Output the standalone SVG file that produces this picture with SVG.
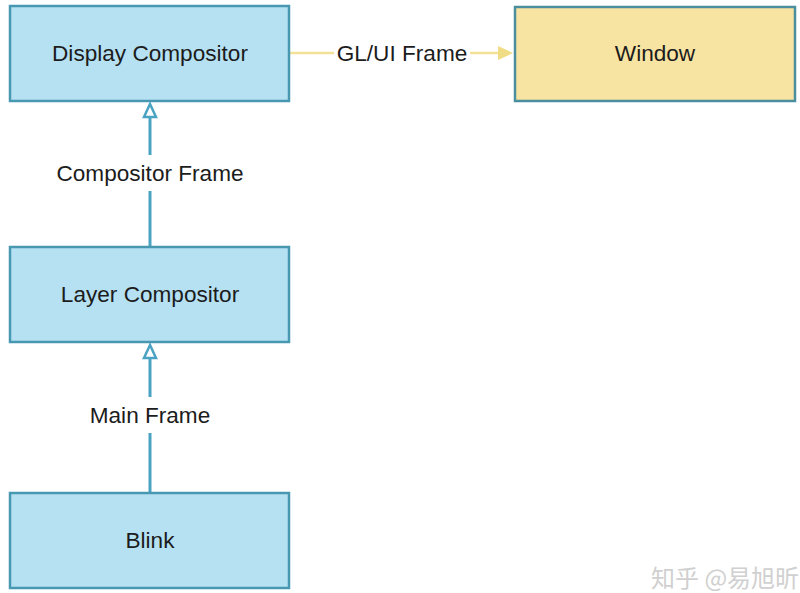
<svg xmlns="http://www.w3.org/2000/svg" width="800" height="593" viewBox="0 0 800 593">
<style>
.box{fill:#b5e1f3;stroke:#4898b2;stroke-width:2.5}
.win{fill:#f8e4a2;stroke:#4b8f9e;stroke-width:2.5}
.t{font-family:"Liberation Sans",Arial,sans-serif;font-size:22.6px;fill:#1c1c1c;text-anchor:middle}
.lbl{font-family:"Liberation Sans",Arial,sans-serif;font-size:22.6px;fill:#1c1c1c;text-anchor:middle}
.blue{stroke:#4aa3c2;stroke-width:3;fill:none}
.yel{stroke:#f2e196;stroke-width:2.5;fill:none}
</style>
<rect width="800" height="593" fill="#ffffff"/>
<g id="connectors">
  <line class="blue" x1="150" y1="247" x2="150" y2="191"/>
  <line class="blue" x1="150" y1="155" x2="150" y2="117"/>
  <polygon points="150,104 144,117 156,117" fill="#ffffff" stroke="#4aa3c2" stroke-width="2.5"/>
  <line class="blue" x1="150" y1="493" x2="150" y2="433"/>
  <line class="blue" x1="150" y1="397" x2="150" y2="358"/>
  <polygon points="150,345 144,358 156,358" fill="#ffffff" stroke="#4aa3c2" stroke-width="2.5"/>
  <line class="yel" x1="290" y1="53" x2="334" y2="53"/>
  <line class="yel" x1="470" y1="53" x2="499" y2="53"/>
  <polygon points="513,53 498,46 498,60" fill="#f0dc84"/>
  <text class="lbl" x="150" y="181">Compositor Frame</text>
  <text class="lbl" x="150" y="423">Main Frame</text>
  <text class="lbl" x="402" y="61">GL/UI Frame</text>
</g>
<g id="display">
  <rect class="box" x="10" y="6" width="279" height="95"/>
  <text class="t" x="150" y="61">Display Compositor</text>
</g>
<g id="window">
  <rect class="win" x="515" y="7" width="280" height="94"/>
  <text class="t" x="655" y="61">Window</text>
</g>
<g id="layer">
  <rect class="box" x="10" y="247" width="279" height="95"/>
  <text class="t" x="150" y="302">Layer Compositor</text>
</g>
<g id="blink">
  <rect class="box" x="10" y="493" width="279" height="95"/>
  <text class="t" x="150" y="548">Blink</text>
</g>
<text x="651" y="587" font-family="'Noto Sans CJK SC',sans-serif" font-size="24" fill="#d0d0d0">知乎 @易旭昕</text>
</svg>
